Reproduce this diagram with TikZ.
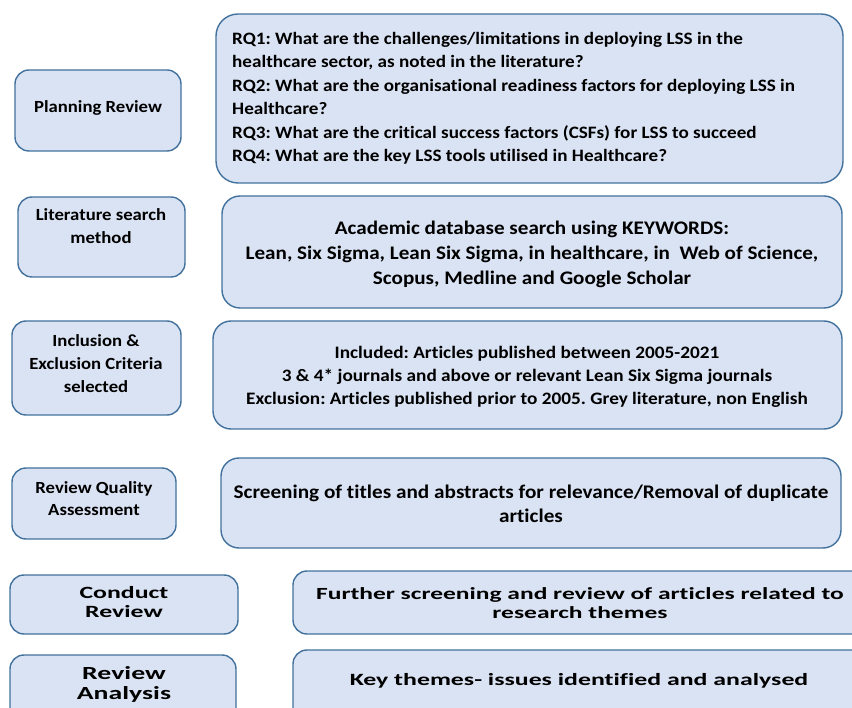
\documentclass[tikz,border=0pt]{standalone}
\usepackage{fontspec}
\setmainfont{Carlito}[FakeStretch=1.1,Ligatures=NoCommon]
\newfontfamily\widefont{Carlito}[FakeStretch=1.5,Ligatures=NoCommon]
\definecolor{boxfill}{HTML}{DAE3F3}
\definecolor{boxline}{HTML}{41719C}
\begin{document}
\frenchspacing
\begin{tikzpicture}[x=1pt,y=-1pt,
  box/.style={draw=boxline, fill=boxfill, line width=1.4pt, rounded corners=14pt},
  bigbox/.style={box, rounded corners=22pt},
  txt/.style={font=\bfseries, align=center, inner sep=0pt},
]
\clip (0,0) rectangle (852,708);
\useasboundingbox (0,0) rectangle (852,708);
% row 1
\draw[box] (15,70) rectangle (181,151);
\node[txt, font=\fontsize{17}{21}\selectfont\bfseries] (t1) at (98,108) {Planning Review};
\draw[bigbox] (216,14) rectangle (843,183);
\node[txt, anchor=north west, align=left, font=\fontsize{17.4}{23.4}\selectfont\bfseries] (q1) at (232,32) {RQ1: What are the challenges/limitations in deploying LSS in the\\
healthcare sector, as noted in the literature?\\
RQ2: What are the organisational readiness factors for deploying LSS in\\
Healthcare?\\
RQ3: What are the critical success factors (CSFs) for LSS to succeed\\
RQ4: What are the key LSS tools utilised in Healthcare?};
% row 2
\draw[box] (18,197) rectangle (185,277);
\node[txt, font=\fontsize{17}{23}\selectfont\bfseries] (t2) at (101,226) {Literature search\\method};
\draw[box, rounded corners=18pt] (222,196) rectangle (842,308);
\node[txt, font=\fontsize{19.2}{25}\selectfont\bfseries] (q2) at (532,254) {Academic database search using KEYWORDS:\\
Lean, Six Sigma, Lean Six Sigma, in healthcare, in\ \ Web of Science,\\
Scopus, Medline and Google Scholar};
% row 3
\draw[box] (12,321) rectangle (181,415);
\node[txt, font=\fontsize{17}{23}\selectfont\bfseries] (t3) at (96,364) {Inclusion \&\\Exclusion Criteria\\selected};
\draw[box, rounded corners=18pt] (213,321) rectangle (842,429);
\node[txt, font=\fontsize{17.5}{23}\selectfont\bfseries] (q3) at (527,377) {Included: Articles published between 2005-2021\\
3 \& 4* journals and above or relevant Lean Six Sigma journals\\
Exclusion: Articles published prior to 2005. Grey literature, non English};
% row 4
\draw[box] (12,468) rectangle (176,539);
\node[txt, font=\fontsize{17}{22}\selectfont\bfseries] (t4) at (94,499) {Review Quality\\Assessment};
\draw[box, rounded corners=18pt] (221,458) rectangle (841,548);
\node[txt, font=\fontsize{19.3}{24}\selectfont\bfseries] (q4) at (531,504) {Screening of titles and abstracts for relevance/Removal of duplicate\\articles};
% row 5
\draw[box] (10,575) rectangle (238,634);
\node[txt, font=\fontsize{17.2}{19}\widefont\bfseries] (t5) at (124,602) {Conduct\\Review};
\draw[box] (293,571) rectangle (880,634);
\node[txt, font=\fontsize{17}{19}\widefont\bfseries] (q5) at (580,603) {Further screening and review of articles related to\\research themes};
% row 6
\draw[box] (10,655) rectangle (236,730);
\node[txt, font=\fontsize{18.5}{20}\widefont\bfseries] (t6) at (124,684) {Review\\Analysis};
\draw[box] (293,650) rectangle (880,730);
\node[txt, font=\fontsize{17.2}{19}\widefont\bfseries] (q6) at (579,681) {Key themes- issues identified and analysed};
\end{tikzpicture}
\end{document}
